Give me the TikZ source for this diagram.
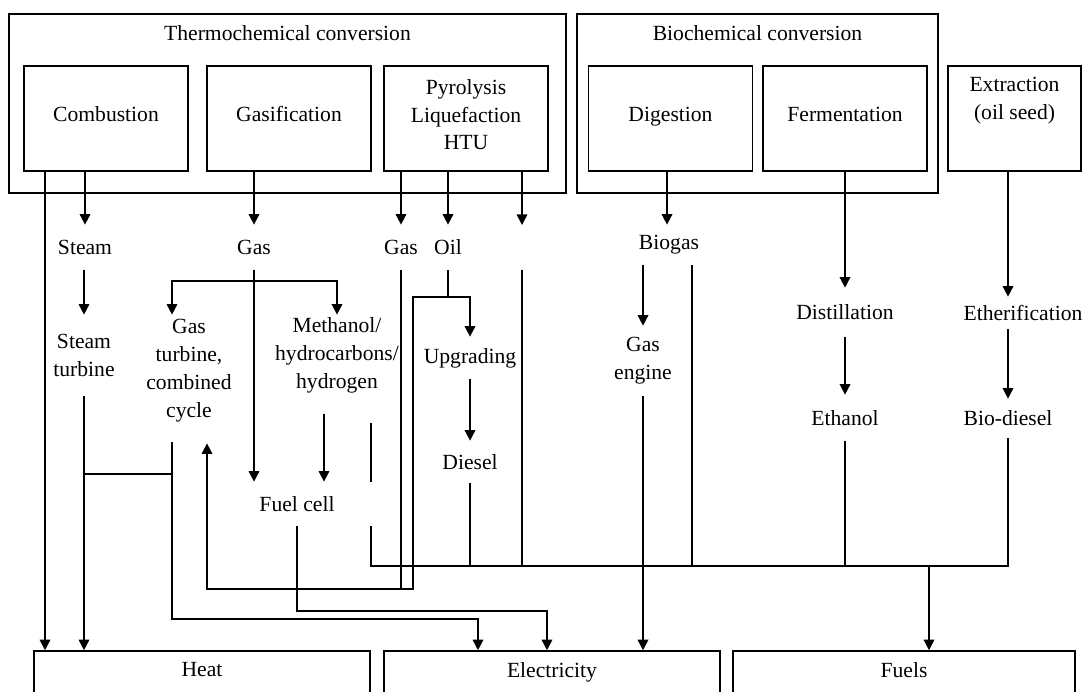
\documentclass[tikz,border=0pt]{standalone}
\usepackage{fontspec}
\setmainfont{Liberation Serif}
\usetikzlibrary{arrows.meta}
\usetikzlibrary{positioning}
\newcommand{\pxu}{0.02cm}
\tikzstyle{group}=[draw,line width=0.9pt,inner sep=0pt]
\tikzstyle{proc}=[draw,line width=0.9pt,minimum width=164*\pxu,minimum height=105*\pxu,align=center,inner sep=0pt]
\tikzstyle{outbox}=[draw,line width=0.9pt,minimum height=80*\pxu,inner sep=0pt]
\tikzstyle{lbl}=[align=center,inner sep=0pt]
\tikzstyle{edge}=[draw,line width=0.9pt,-{Triangle[length=6pt,width=6pt]}]
\tikzstyle{link}=[draw,line width=0.9pt]
\tikzset{titled/.style={label={[anchor=north,inner sep=0pt,yshift=-0.24cm]north:#1}}}

\begin{document}
\begin{tikzpicture}[x=0.02cm,y=-0.02cm,font=\fontsize{12.3}{15.9}\selectfont]
  \clip (0,0) rectangle (1091,691);

  % conversion routes
  \node[group,minimum width=557*\pxu,minimum height=179*\pxu,titled=Thermochemical conversion] (thermo) at (287.5,103.5) {};
  \node[group,minimum width=361*\pxu,minimum height=179*\pxu,titled=Biochemical conversion] (bio) at (757.5,103.5) {};

  \foreach \pos/\name/\txt in {{(106,118.5)/comb/Combustion}, {(289,118.5)/gasif/Gasification},
      {(670.5,118.5)/dig/Digestion}, {(845,118.5)/ferm/Fermentation}}
    \node[proc,text height=8.5pt,text depth=5.5pt] (\name) at \pos {\txt};
  \node[proc,text depth=4.5pt] (pyro) at (466,118.5) {Pyrolysis\\Liquefaction\\HTU};
  \node[proc,minimum width=133*\pxu,label={[align=center,yshift=0.36cm]center:Extraction\\(oil seed)}] (ext) at (1014.5,118.5) {};

  % intermediate products and steps
  \foreach \pos/\name/\h/\txt in {{(85,247.5)/steam/45/Steam}, {(254,247.5)/gas1/45/Gas}, {(401,247.5)/gas2/45/Gas},
      {(448,247.5)/oil/45/Oil}, {(669,245)/biogas/40/Biogas}, {(84,355.5)/sturb/81/Steam\\turbine},
      {(189,370.5)/gt/127/Gas\\turbine,\\combined\\cycle}, {(470,358)/upg/42/Upgrading}, {(470,462)/diesel/42/Diesel},
      {(643,361)/geng/70/Gas\\engine}, {(845,312.5)/dist/49/Distillation}, {(845,418)/eth/46/Ethanol},
      {(1023,313)/ether/32/Etherification}, {(1008,418.5)/biod/39/Bio-diesel}}
    \node[lbl,minimum height=\h*\pxu] (\name) at \pos {\txt};
  \node[lbl,minimum height=81*\pxu] (meth) at (337,355.5) {Methanol/\\hydrocarbons/\\hydrogen};
  \node[lbl,minimum height=44*\pxu,minimum width=150*\pxu] (fcell) at (297,504) {Fuel cell};

  % end uses
  \node[outbox,minimum width=336*\pxu,titled=Heat] (heat) at (202,691) {};
  \node[outbox,minimum width=336*\pxu,titled=Electricity] (elec) at (552,691) {};
  \node[outbox,minimum width=342*\pxu,titled=Fuels] (fuels) at (904,691) {};

  \coordinate (ptip) at (522,225);
  \coordinate (pbeg) at (522,270);
  \coordinate (cheat) at (45,171);
  \coordinate (split) at (254,281);
  \coordinate (gtout) at ([shift={(-17,8)}]gt.south);
  \coordinate (gtj) at (172,474);
  \coordinate (elecA) at (478,619);
  \coordinate (elecB) at (547,611);
  \coordinate (h2) at (324,414);
  \coordinate (h2b) at (371,423);
  \coordinate (ojn) at (448,297);
  \coordinate (recyc) at (413,589);
  \coordinate (busL) at (371,566);
  \coordinate (busF) at (929,566);
  \coordinate (dgx) at (667,0);
  \coordinate (bgR) at (692,265);

  \foreach \src/\dst in {comb/steam, gasif/gas1, pyro/gas2, pyro/oil, steam/sturb, upg/diesel, dist/eth}
    \path[edge] (\src.south -| \dst) -- (\dst.north);
  \path[edge] (dig.south -| dgx) -- (biogas.north -| dgx);
  \path[edge] (biogas.south -| geng) -- (geng.north);
  \path[edge] (ferm.south -| dist) -- (dist.north);
  \path[edge] (ext.south -| biod) -- (ether.north -| biod);
  \path[edge] (ether.south -| biod) -- (biod.north);
  \path[edge] (pyro.south -| ptip) -- (ptip);

  % heat
  \path[edge] (cheat) -- (cheat |- heat.north);
  \path[edge] (sturb.south) -- (sturb.south |- heat.north);
  \path[link] (gtj) -- (gtj -| sturb);

  % gas route
  \path[edge] (gas1.south) -- (gas1.south |- fcell.north);
  \path[edge] (split) -| ([shift={(-17,8)}]gt.north);
  \path[edge] (split) -| (meth.north);
  \path[edge] (h2) -- (h2 |- fcell.north);
  \path[link] (h2b) -- (h2b |- fcell.north);

  % electricity
  \path[edge] (gtout) |- (elecA) -- (elecA |- elec.north);
  \path[edge] (fcell.south) |- (elecB) -- (elecB |- elec.north);
  \path[edge] (geng.south) -- (geng.south |- elec.north);

  % pyrolysis products
  \path[link] (oil.south) -- (ojn);
  \path[edge] (ojn) -| (upg.north);
  \path[edge] (ojn) -| (recyc) -| ([shift={(18,9)}]gt.south);
  \path[link] (gas2.south) -- (gas2.south |- recyc);

  % fuels
  \path[link] (biod.south) |- (busL) -- (h2b |- fcell.south);
  \foreach \n in {diesel.south, pbeg, bgR, eth.south}
    \path[link] (\n) -- (\n |- busL);
  \path[edge] (busF) -- (busF |- fuels.north);
\end{tikzpicture}
\end{document}
